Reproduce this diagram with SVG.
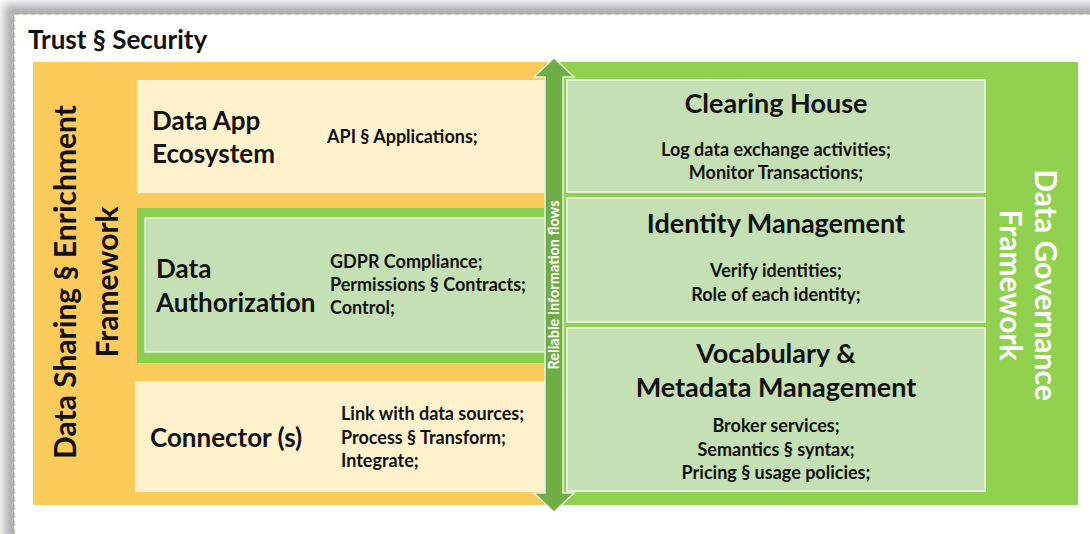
<svg xmlns="http://www.w3.org/2000/svg" width="1090" height="534" viewBox="0 0 1090 534">
  <defs>
    <filter id="blur" x="-5%" y="-5%" width="110%" height="110%">
      <feGaussianBlur stdDeviation="5"/>
    </filter>
    <style>
      text { font-family: Lato, "Liberation Sans", sans-serif; font-weight: bold; fill: #111; }
      .title { font-size: 26px; }
      .head { font-size: 26px; }
      .item { font-size: 18px; }
      .rhead { font-size: 27px; text-anchor: middle; }
      .ritem { font-size: 18px; text-anchor: middle; }
      .side { font-size: 30px; text-anchor: middle; }
      .cream { fill: #fff2cc; }
      .lgreen { fill: #c5e0b4; stroke: #e2f0d9; stroke-width: 2; }
    </style>
  </defs>

  <!-- frame with shadow -->
  <rect x="0" y="0" width="1090" height="534" fill="#ffffff"/>
  <rect x="4" y="4" width="1100" height="540" fill="#b0b0b0" filter="url(#blur)"/>
  <rect x="14" y="14" width="1090" height="530" fill="#ffffff" stroke="#9aa98a" stroke-width="1.2" stroke-dasharray="5 3"/>

  <g id="trust-security">
    <text class="title" x="28" y="49">Trust § Security</text>
  </g>

  <g id="data-sharing-framework">
    <rect x="33" y="62" width="530" height="443" fill="#fdca5c"/>
    <text class="side" transform="translate(76,282) rotate(-90)">Data Sharing § Enrichment</text>
    <text class="side" transform="translate(118,282) rotate(-90)">Framework</text>
  </g>

  <g id="data-governance-framework">
    <rect x="556" y="62" width="522" height="443" fill="#92d050"/>
    <text class="side" style="fill:#ffffff" transform="translate(1035,285) rotate(90)">Data Governance</text>
    <text class="side" style="fill:#ffffff" transform="translate(1000,285) rotate(90)">Framework</text>
  </g>

  <g id="data-app-ecosystem">
    <rect class="cream" x="137" y="80" width="410" height="113"/>
    <text class="head" x="152" y="130">Data App</text>
    <text class="head" x="152" y="163">Ecosystem</text>
    <text class="item" x="327" y="143">API § Applications;</text>
  </g>

  <g id="data-authorization">
    <rect x="137" y="208" width="414" height="155" fill="#8ccf4e"/>
    <rect x="145" y="218" width="402" height="134" fill="#c5e0b4" stroke="#e2f0d9" stroke-width="1.5"/>
    <text class="head" x="156" y="278">Data</text>
    <text class="head" x="156" y="312">Authorization</text>
    <text class="item" x="330" y="268">GDPR Compliance;</text>
    <text class="item" x="330" y="291">Permissions § Contracts;</text>
    <text class="item" x="330" y="314">Control;</text>
  </g>

  <g id="connectors">
    <rect class="cream" x="135" y="381" width="412" height="111"/>
    <text class="head" x="150" y="447">Connector (s)</text>
    <text class="item" x="341" y="420">Link with data sources;</text>
    <text class="item" x="341" y="444">Process § Transform;</text>
    <text class="item" x="341" y="467">Integrate;</text>
  </g>

  <g id="clearing-house">
    <rect class="lgreen" x="567" y="80" width="418" height="112"/>
    <text class="rhead" x="776" y="113">Clearing House</text>
    <text class="ritem" x="776" y="156">Log data exchange activities;</text>
    <text class="ritem" x="776" y="179">Monitor Transactions;</text>
  </g>

  <g id="identity-management">
    <rect class="lgreen" x="567" y="198" width="418" height="124"/>
    <text class="rhead" x="776" y="233">Identity Management</text>
    <text class="ritem" x="776" y="277">Verify identities;</text>
    <text class="ritem" x="776" y="301">Role of each identity;</text>
  </g>

  <g id="vocabulary-metadata">
    <rect class="lgreen" x="567" y="328" width="418" height="163"/>
    <text class="rhead" x="776" y="363">Vocabulary &amp;</text>
    <text class="rhead" x="776" y="397">Metadata Management</text>
    <text class="ritem" x="776" y="432">Broker services;</text>
    <text class="ritem" x="776" y="456">Semantics § syntax;</text>
    <text class="ritem" x="776" y="479">Pricing § usage policies;</text>
  </g>

  <g id="connectors-flow">
    <g id="reliable-information-flows">
      <polygon points="554,58 574,77 563,77 563,493 574,493 554,512 534,493 545,493 545,77 534,77" fill="#70ad47" stroke="#e8f3df" stroke-width="1.5" stroke-linejoin="miter"/>
      <text transform="translate(559,285) rotate(-90)" style="font-size:14.5px;fill:#ffffff;text-anchor:middle">Reliable Information flows</text>
    </g>
  </g>
</svg>
